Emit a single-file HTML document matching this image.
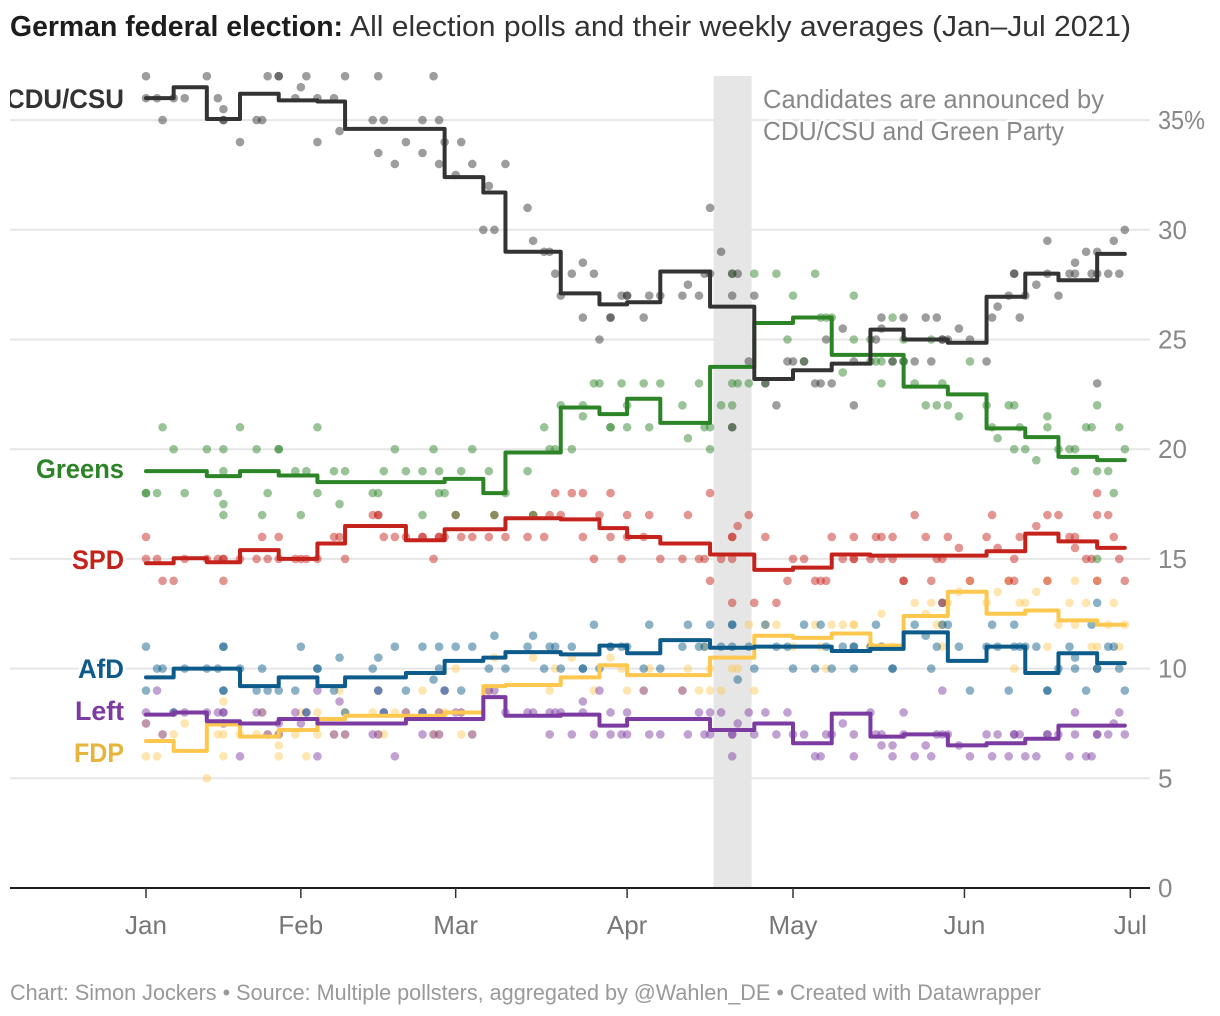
<!DOCTYPE html>
<html lang="en">
<head>
<meta charset="utf-8">
<title>German federal election polls</title>
<style>
html,body{margin:0;padding:0;background:#fff;width:1220px;height:1016px;overflow:hidden}
svg{display:block;font-family:"Liberation Sans",sans-serif}
.party{font-weight:700;font-size:27px;text-anchor:end;paint-order:stroke;stroke:#fff;stroke-width:6px;stroke-linejoin:round}
.note{font-size:26px;fill:#888;paint-order:stroke;stroke:#fff;stroke-width:5px;stroke-linejoin:round}
</style>
</head>
<body>
<svg id="chart" width="1220" height="1016" viewBox="0 0 1220 1016" xmlns="http://www.w3.org/2000/svg">
  <defs><clipPath id="left-clip"><rect x="10" y="60" width="1210" height="800"/></clipPath></defs>
  <rect width="1220" height="1016" fill="#fff"/>
  <text x="10" y="36" font-size="29" font-weight="700" fill="#1d1d1d" textLength="333" lengthAdjust="spacingAndGlyphs">German federal election:</text>
  <text x="350" y="36" font-size="29" fill="#333" textLength="781" lengthAdjust="spacingAndGlyphs">All election polls and their weekly averages (Jan–Jul 2021)</text>
  <g id="grid"></g>
  <rect id="band" fill="#e6e6e6"/>
  <g id="dots"></g>
  <g id="lines"></g>
  <g id="axis"></g>
  <g id="yticks"></g>
  <text class="note" x="763" y="108" textLength="341" lengthAdjust="spacingAndGlyphs">Candidates are announced by</text>
  <text class="note" x="763" y="140" textLength="301" lengthAdjust="spacingAndGlyphs">CDU/CSU and Green Party</text>
  <g clip-path="url(#left-clip)">
    <text class="party" x="124" y="108" fill="#333" textLength="118" lengthAdjust="spacingAndGlyphs">CDU/CSU</text>
  </g>
  <text class="party" x="124" y="478" fill="#2c8427" textLength="88" lengthAdjust="spacingAndGlyphs">Greens</text>
  <text class="party" x="124" y="569" fill="#c4221a" textLength="52" lengthAdjust="spacingAndGlyphs">SPD</text>
  <text class="party" x="124" y="678" fill="#0c5b8a" textLength="46" lengthAdjust="spacingAndGlyphs">AfD</text>
  <text class="party" x="124" y="720" fill="#7b3ba0" textLength="49" lengthAdjust="spacingAndGlyphs">Left</text>
  <text class="party" x="124" y="762" fill="#e6b53d" textLength="50" lengthAdjust="spacingAndGlyphs">FDP</text>
  <text x="10" y="1000" font-size="22.5" fill="#999" textLength="1031" lengthAdjust="spacingAndGlyphs">Chart: Simon Jockers • Source: Multiple pollsters, aggregated by @Wahlen_DE • Created with Datawrapper</text>
</svg>
<script>
// Days are counted from the first tick (4 January 2021).
const stepDays=[0,5,11,17,24,31,36,47,54,61,65,75,82,87,93,102,110,117,124,131,137,145,152,159,165,172];
const lastDay=177;
const avgCDU=[36,36.5,35.05,36.2,35.9,35.85,34.6,34.6,32.4,31.7,29,27.1,26.6,26.7,28.1,26.5,23.2,23.6,23.9,25.45,25,24.85,26.95,28,27.7,28.9];
const avgGreens=[19,19,18.77,19,18.8,18.5,18.5,18.5,18.65,18,19.85,21.9,21.6,22.3,21.2,23.75,25.75,26,24.3,24.3,22.85,22.5,20.95,20.55,19.65,19.5];
const avgSPD=[14.8,15.03,14.85,15.4,15,15.7,16.5,15.85,16.35,16.35,16.85,16.8,16.4,16,15.7,15.2,14.5,14.6,15.2,15.15,15.15,15.15,15.35,16.15,15.8,15.5];
const avgAfD=[9.6,10,10,9.2,9.6,9.2,9.6,9.8,10.35,10.5,10.75,10.65,11.05,10.7,11.3,10.95,11,11,10.8,10.9,11.65,10.35,11,9.8,10.7,10.25];
const avgFDP=[6.7,6.25,7.45,6.9,7.2,7.7,7.85,7.85,8,9.2,9.25,9.6,10.15,9.7,9.7,10.5,11.5,11.4,11.6,11.05,12.4,13.5,12.5,12.65,12.2,12];
const avgLeft=[7.9,8,7.6,7.5,7.7,7.5,7.5,7.7,7.7,8.7,7.85,7.9,7.4,7.7,7.7,7.2,7.5,6.6,7.95,6.9,7,6.5,6.6,6.8,7.4,7.4];

// Polls: [share in percent, day, day, ...]
const pollsCDU=[[37,0,11,22,24,24,29,36,42,52],[36.5,28],[36,0,2,5,7,13,27,31,34],[35.5,14],[35,3,14,14,20,21,41,43,50,53],[34.5,35],[34,17,31,47,54,57],[33.5,42,50],[33,45,53,59,65],[32.5,56],[32,62],[31,69,102],[30,61,63],[29.5,70,163,175],[30,177],[29,72,73,104,170,172],[28.5,79,168],[28,74,77,81,101,102,106,107,157,157,163,167,168,171,172,174,176],[27.5,98,161],[27,75,86,87,87,91,93,97,100,106,110,156,159,165],[26.5,154],[26,79,84,84,90,133,137,141,143,153,158],[25.5,126,133,147],[25,82,123,132,144,144,145,149],[24,109,116,117,119,128,135,137,139,142,152],[23,112,121,122,124,172],[22,114,128],[21,106]];
const pollsGreens=[[28,106,110,114,121],[27,117,128],[26,122,123,124,135],[25,116,128,131,137,142],[24,119,131,132,133,135,137,149],[23.5,126],[23,81,82,86,90,93,100,106,107,109,112,133,139,144],[22,75,79,87,97,104,106,141,143,145,152,156,157,172],[21.5,79,147,163],[21,3,17,31,72,84,84,87,91,101,102,106,153,158,163,170,171,176],[20.5,98,154],[20,5,11,14,20,24,24,45,52,59,73,74,77,102,157,159,165,167,168,177],[19.5,161],[19,14,27,29,34,36,43,47,50,53,57,62,69,168,172,174],[18,0,0,2,7,13,22,31,41,42,53,54,65,175],[17.5,14,35],[17,14,21,28,50,56,63,70],[15,172]];
const pollsSPD=[[18,74,77,79,84,102,172],[17,41,42,42,56,63,70,73,75,82,87,91,98,109,139,153,163,165,172,174],[16.5,107,161],[16,0,21,24,34,35,43,45,47,50,50,53,53,54,57,59,62,65,69,72,79,84,87,90,106,106,112,124,128,132,133,135,141,145,152,158,167,168,175],[15.5,147,154,168],[15,0,2,7,11,13,14,14,17,20,22,24,27,28,29,31,36,52,81,86,93,97,100,101,104,106,117,119,126,128,128,131,133,135,143,144,157,170,171,176],[14,3,5,14,102,116,121,122,123,137,137,142,149,156,157,163,172,177],[13,106,110,114,144]];
const pollsAfD=[[13,144,172],[12,81,91,98,102,106,106,112,119,122,132,139,144,145,153,157,171],[11.5,63,70,141],[11,0,14,14,28,45,50,53,56,59,69,73,74,77,84,84,86,87,97,100,101,104,106,109,114,116,123,126,128,128,131,133,143,147,152,154,157,158,159,161,167,174,175],[10.5,35,42,168],[10,2,3,7,11,13,17,21,31,31,41,53,62,65,72,75,79,79,82,90,93,110,117,121,124,128,135,135,142,165,168,172,172,176],[9.5,52,107],[9,0,14,14,20,22,24,27,34,42,47,54,57,149,156,163,163,170,177],[8,5,29,36,43,50]];
const pollsFDP=[[14,149,156,163,168,172],[13.5,147,154,161],[13,139,142,145,152,158,159,167,170,175],[12.5,133,141],[12,109,112,114,121,124,126,128,128,143,144,165,168,174,177],[11,101,117,122,131,133,135,144,163,171,172,176],[10.5,63,70,77,84],[10,56,74,86,91,98,102,106,107,123,157],[9,35,50,62,73,81,87,90,97,100,102,104,110],[8.5,14],[8,21,28,31,36,41,45,47,53,54,57],[7.5,0,7,14],[7,3,5,13,14,17,20,22,24,27,31,34,36,42,43,52,53,57,59],[6.5,24],[6,0,2,14,24,29],[5,11]];
const pollsLeft=[[9,2,31,42,54,62,63,82,90,97,144],[8.5,35,79],[8,0,5,7,11,13,14,14,20,21,27,29,43,47,50,53,56,57,65,69,70,73,74,75,79,84,87,100,102,104,109,112,116,131,137,168,176],[7.5,0,14,24,28,107,126,175],[7,3,22,24,34,36,41,42,50,52,53,59,73,77,81,84,86,87,91,93,98,101,102,106,106,110,114,117,119,123,124,128,132,133,137,143,144,145,152,154,157,157,158,163,163,165,168,172,172,174,177],[6.5,133,135,141,147],[6,17,31,45,106,121,122,128,135,139,142,149,153,156,159,161,167,170,171]];

const yTicks=[0,5,10,15,20,25,30,35];
const monthLabels=["Jan","Feb","Mar","Apr","May","Jun","Jul"];
const monthDays=[0,28,56,87,117,148,178];
const bandDays=[103,110];
const partyNames=["fdp","left","afd","spd","greens","cdu"];
const partyColors=["#fec84f","#7b3ba0","#0c5b8a","#c4221a","#2c8427","#333333"];
const partyAverages=[avgFDP,avgLeft,avgAfD,avgSPD,avgGreens,avgCDU];
const partyPolls=[pollsFDP,pollsLeft,pollsAfD,pollsSPD,pollsGreens,pollsCDU];

const NS="http://www.w3.org/2000/svg";
function xScale(d){return 146+5.53*d;}
function yScale(v){return 888-21.94*v;}
function make(tag,parent){const el=document.createElementNS(NS,tag);document.getElementById(parent).appendChild(el);return el;}

const band=document.getElementById("band");
band.setAttribute("x",xScale(bandDays[0])-2);
band.setAttribute("width",xScale(bandDays[1])-xScale(bandDays[0])-0.7);
band.setAttribute("y",76);
band.setAttribute("height",812);

yTicks.forEach(function(t){
  if(t>0){
    const ln=make("line","grid");
    
    
    ln.setAttribute("x1",10);ln.setAttribute("x2",1150);
    ln.setAttribute("y1",yScale(t));ln.setAttribute("y2",yScale(t));
    ln.setAttribute("stroke","#e6e6e6");ln.setAttribute("stroke-width",2);
  }
  const tx=make("text","yticks");
  
  
  tx.setAttribute("x",1158);tx.setAttribute("y",yScale(t)+9);
  tx.setAttribute("font-size",26);tx.setAttribute("fill","#888");
  tx.textContent=t===35?t+"%":String(t);
  if(t===35){
    tx.setAttribute("textLength",47);
    tx.setAttribute("lengthAdjust","spacingAndGlyphs");
  }
});

partyPolls.forEach(function(rows,i){
  rows.forEach(function(row){
    row.slice(1).forEach(function(day){
      const c=make("circle","dots");
      
      
      c.setAttribute("cx",xScale(day));c.setAttribute("cy",yScale(row[0]));
      c.setAttribute("r",4.3);c.setAttribute("fill",partyColors[i]);
      c.setAttribute("fill-opacity",i===0?0.45:0.48);
    });
  });
});

partyAverages.forEach(function(vals,i){
  let d="M"+xScale(stepDays[0])+" "+yScale(vals[0]);
  vals.forEach(function(v,k){
    const end=k+1<stepDays.length?stepDays[k+1]:lastDay;
    d+="V"+yScale(v)+"H"+xScale(end);
  });
  const p=make("path","lines");
  
  
  p.setAttribute("data-party",partyNames[i]);
  p.setAttribute("d",d);p.setAttribute("fill","none");
  p.setAttribute("stroke",partyColors[i]);p.setAttribute("stroke-width",4);
  p.setAttribute("stroke-linejoin","round");p.setAttribute("stroke-linecap","round");
});

const axisLine=make("line","axis");


axisLine.setAttribute("x1",10);axisLine.setAttribute("x2",1150);
axisLine.setAttribute("y1",888);axisLine.setAttribute("y2",888);
axisLine.setAttribute("stroke","#1d1d1d");axisLine.setAttribute("stroke-width",2);

monthLabels.forEach(function(m,i){
  const tick=make("line","axis");
  
  
  tick.setAttribute("x1",xScale(monthDays[i]));tick.setAttribute("x2",xScale(monthDays[i]));
  tick.setAttribute("y1",888);tick.setAttribute("y2",898);
  tick.setAttribute("stroke","#333");tick.setAttribute("stroke-width",1.5);
  const tx=make("text","axis");
  
  
  tx.setAttribute("x",xScale(monthDays[i]));tx.setAttribute("y",934);
  tx.setAttribute("font-size",26);tx.setAttribute("fill","#777");
  tx.setAttribute("text-anchor","middle");
  tx.textContent=m;
});
</script>
</body>
</html>
